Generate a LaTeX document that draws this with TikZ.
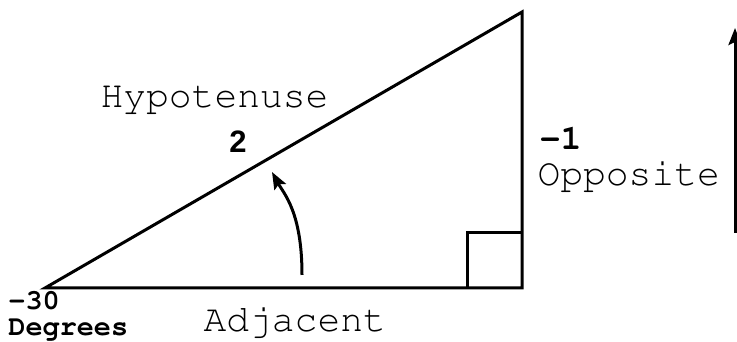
\documentclass[tikz,border=0pt]{standalone}
\usepackage{fontspec}
\newfontfamily\labelsans{Liberation Sans}
\newcommand{\cour}{\fontencoding{OT1}\fontfamily{pcr}}
\usetikzlibrary{arrows.meta,calc,positioning}

\begin{document}
\begin{tikzpicture}[x=1pt,y=1pt,line width=3pt,
  side/.style={inner sep=0pt,anchor=base west,font=\cour\fontsize{38}{40}\selectfont},
  val/.style={inner sep=0pt,anchor=base west,font=\cour\bfseries\fontsize{35}{38}\selectfont},
  small/.style={inner sep=0pt,anchor=base west,font=\cour\bfseries\fontsize{28.5}{30}\selectfont},
  tip/.style={-{Stealth[length=17pt,width=13pt,inset=3pt]}}]
\useasboundingbox (0,0) rectangle (737,342);
\coordinate (A) at (45,54);
\coordinate (B) at (522,54);
\coordinate (C) at (522,330);
\draw[line join=miter] (A) -- (B) -- (C) -- cycle;
\draw (467,54) |- (B |- 0,109);
\coordinate (up0) at (735,109);
\coordinate (up1) at (735,314);
\draw[tip] (up0) -- (up1);
\coordinate (sw0) at (302,67);
\coordinate (sw1) at (272,170);
\draw[tip] (sw0) .. controls (302,130) and (284,148) .. (sw1);
\node[side] (hyp) at (99,234) {Hypotenuse};
\node[inner sep=0pt,font=\labelsans\bfseries\fontsize{31}{32}\selectfont] (two) at (238,200) {2};
\node[val] (opv) at (538,192) {-1};
\node[side] (opp) at (536,156) {Opposite};
\node[side] (adj) at (202,10) {Adjacent};
\node[small] (ang) at (7,32) {-30};
\node[small] (deg) at (7,6) {Degrees};
\end{tikzpicture}
\end{document}
